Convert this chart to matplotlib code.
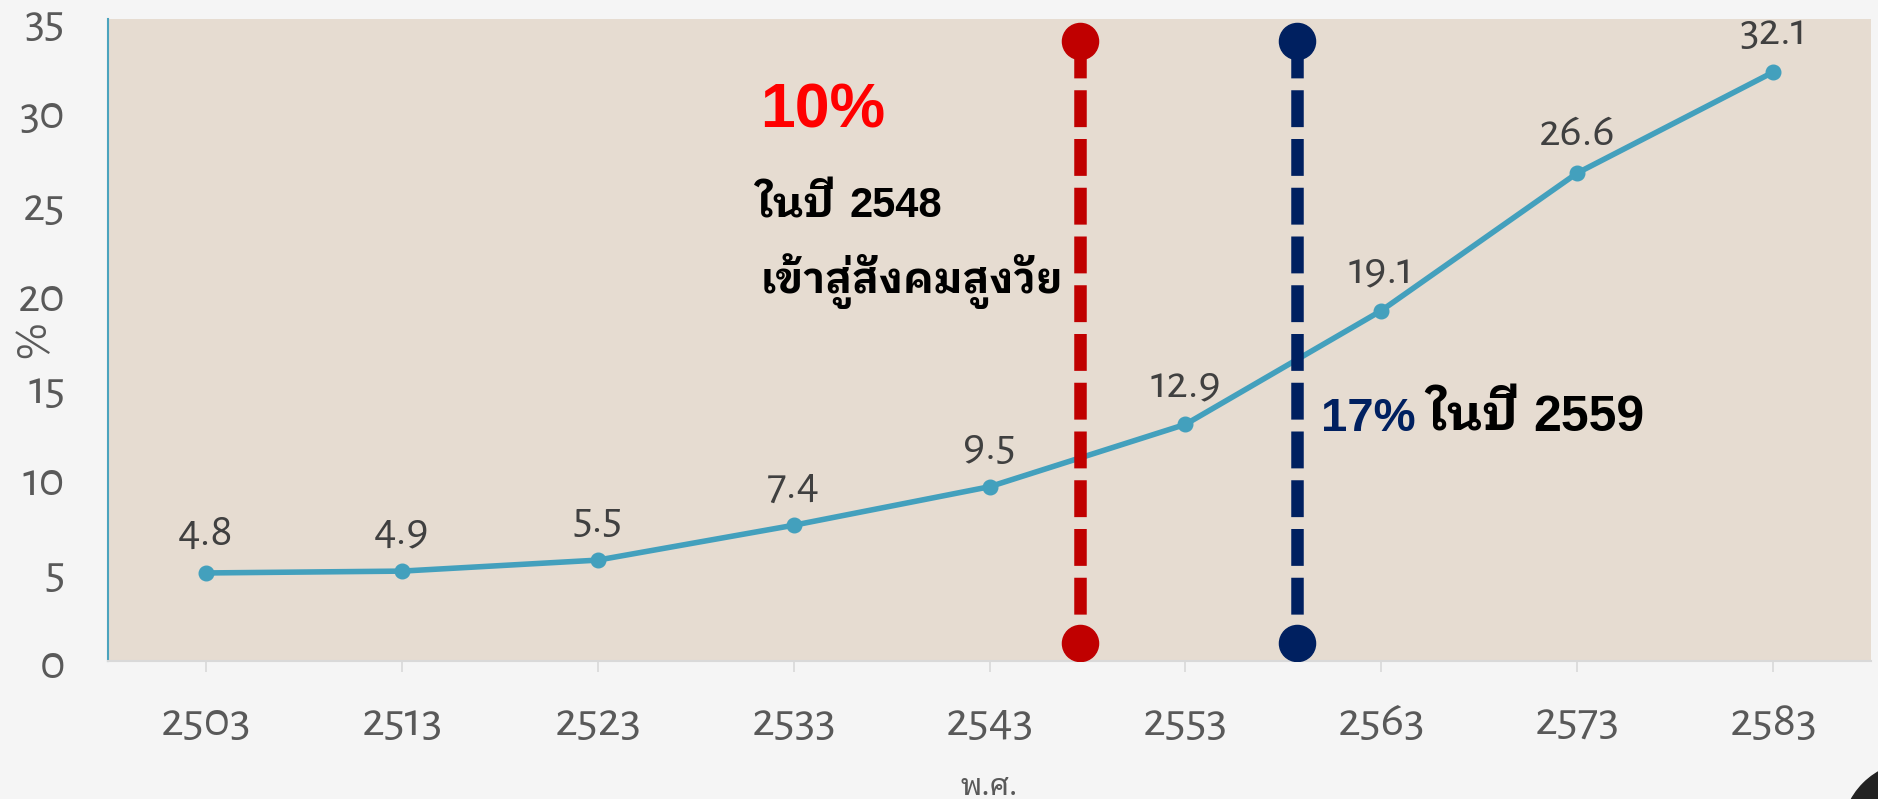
import matplotlib
matplotlib.use('agg')
import matplotlib.pyplot as plt
import matplotlib.patches as mpatches

# share of population aged 60+ (%)
years = [2503, 2513, 2523, 2533, 2543, 2553, 2563, 2573, 2583]
share = [4.8, 4.9, 5.5, 7.4, 9.5, 12.9, 19.1, 26.6, 32.1]
labels = ['4.8', '4.9', '5.5', '7.4', '9.5', '12.9', '19.1', '26.6', '32.1']

# marker lines (position) and their notes
aged_x, full_x = 2547.6, 2558.7
marker_span = [1.0, 33.8]

num_font = ['Alegreya Sans', 'DejaVu Sans']
latin_bold = ['Liberation Sans', 'DejaVu Sans']
thai_bold = ['IBM Plex Sans Thai Looped', 'Noto Sans Thai Looped', 'DejaVu Sans']
thai_light = ['Noto Sans Thai Looped', 'DejaVu Sans']

fig = plt.figure(figsize=(18.78, 7.99), dpi=100, facecolor='#f5f5f5')
ax = fig.add_axes([108 / 1878, 1 - 661 / 799, (1871 - 108) / 1878, (661 - 19) / 799])
ax.set_facecolor('#e6dcd1')
ax.set_xlim(2498, 2588)
ax.set_ylim(0, 35)

ax.plot(years, share, '-o', color='#43a0bd', lw=4, markersize=10.5, zorder=3)
for x, y, t in zip(years, share, labels):
    ax.annotate(t, (x, y), xytext=(0, 20), textcoords='offset points',
                ha='center', va='baseline', fontsize=34, color='#404040',
                family=num_font, zorder=4)

for x, c in [(aged_x, '#c00000'), (full_x, '#002060')]:
    ax.plot([x, x], [marker_span[1], marker_span[0]], color=c, lw=9,
            linestyle=(0, (2.95, 0.95)), zorder=5)
    ax.plot([x, x], marker_span, 'o', color=c, markersize=26, zorder=6)


def text_run(x, y, parts):
    # write pieces one after another on the same baseline
    renderer = fig.canvas.get_renderer()
    px = ax.transData.transform((x, y))
    for s, size, color, fam, gap in parts:
        px = (px[0] + gap, px[1])
        xd, yd = ax.transData.inverted().transform(px)
        t = ax.text(xd, y, s, fontsize=size, color=color, weight='bold',
                    family=fam, ha='left', va='baseline', zorder=7)
        bb = t.get_window_extent(renderer)
        px = (bb.x1, px[1])


text_run(2531.3, 29.06, [('10%', 45, '#ff0000', latin_bold, 0)])
text_run(2531.1, 24.2, [('ในปี', 31, 'black', thai_bold, 0),
                         ('2548', 30, 'black', latin_bold, 14)])
text_run(2531.3, 20.06, [('เข้าสู่สังคมสูงวัย', 30, 'black', thai_bold, 0)])
text_run(2559.9, 12.54, [('17%', 34, '#002060', latin_bold, 0),
                          ('ในปี', 36, 'black', thai_bold, 11),
                          ('2559', 36, 'black', latin_bold, 15)])

ax.set_xticks(years)
ax.set_xticklabels([str(y) for y in years])
ax.set_yticks(range(0, 36, 5))

for lab in ax.get_xticklabels():
    lab.set_family(num_font)
    lab.set_fontsize(36)
    lab.set_color('#595959')
for lab in ax.get_yticklabels():
    lab.set_family(num_font)
    lab.set_fontsize(35)
    lab.set_color('#595959')

ax.tick_params(axis='x', length=8, width=1.2, color='#d9d9d9', pad=20)
ax.tick_params(axis='y', length=0, pad=31)

for s in ['top', 'right']:
    ax.spines[s].set_visible(False)
ax.spines['left'].set_color('#4ba3bd')
ax.spines['left'].set_linewidth(1.5)
ax.spines['bottom'].set_color('#d9d9d9')
ax.spines['bottom'].set_linewidth(1.5)

ax.set_ylabel('%', fontsize=32, color='#595959', family=num_font, va='center')
ax.yaxis.set_label_coords(-0.042, 0.5)
ax.set_xlabel('พ.ศ.', fontsize=22, color='#595959', family=thai_light)
ax.xaxis.label.set_va('baseline')
ax.xaxis.set_label_coords(0.5, (661 - 795) / 642)

# dark corner shape at bottom right of the slide
fig.patches.append(mpatches.Circle((1915, -36), 73, transform=None,
                                   color='#222222', zorder=10))

fig.savefig('out.png', dpi=100, facecolor=fig.get_facecolor())
